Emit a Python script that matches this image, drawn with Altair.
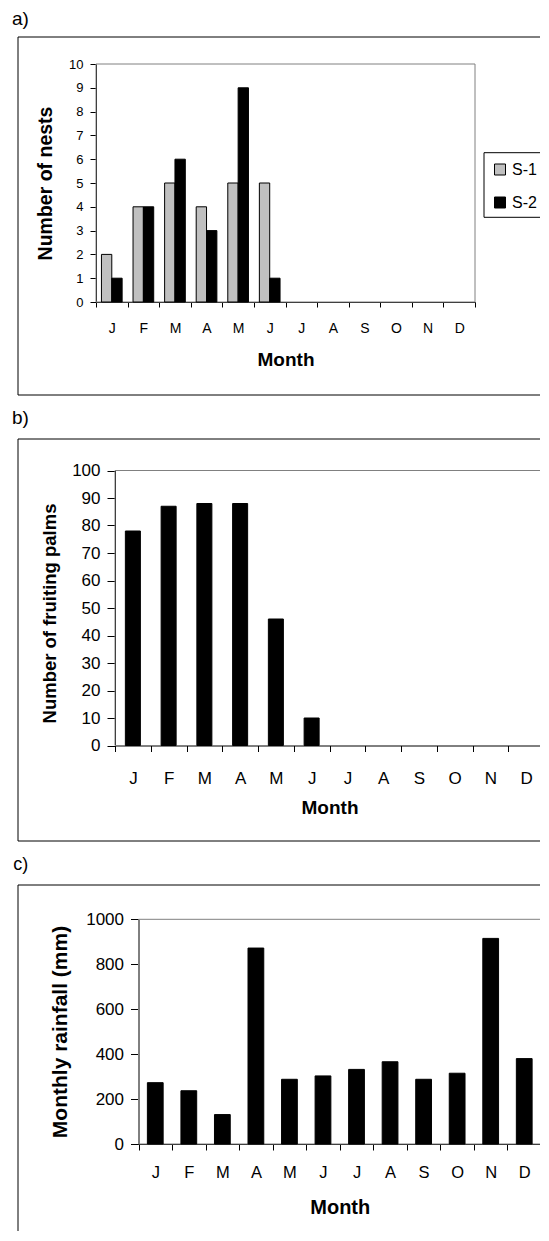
import altair as alt
import pandas as pd

# ---------------- data ----------------
month_letters = ["J", "F", "M", "A", "M", "J", "J", "A", "S", "O", "N", "D"]
month_idx = list(range(12))
series_names = ["S-1", "S-2"]
nests_s1 = [2, 4, 5, 4, 5, 5, 0, 0, 0, 0, 0, 0]
nests_s2 = [1, 4, 6, 3, 9, 1, 0, 0, 0, 0, 0, 0]
palms = [78, 87, 88, 88, 46, 10, 0, 0, 0, 0, 0, 0]
rain = [273, 237, 131, 872, 288, 303, 332, 366, 288, 315, 915, 380]
ticks_a = list(range(0, 11))
ticks_b = list(range(0, 101, 10))
ticks_c = list(range(0, 1001, 200))

FONT = "Liberation Sans"
label_expr = "[" + ",".join("'%s'" % m for m in month_letters) + "][datum.value]"

df_a = pd.DataFrame({
    "m": month_idx * 2,
    "series": [series_names[0]] * 12 + [series_names[1]] * 12,
    "v": nests_s1 + nests_s2,
})
df_b = pd.DataFrame({"m": month_idx, "v": palms})
df_c = pd.DataFrame({"m": month_idx, "v": rain})
one = pd.DataFrame({"k": [0]})

W = 523          # frame width (view); frame lines run on past it to the page edge
RIGHT = 530      # where the open-ended frame lines stop (clipped at the svg edge)

# zero-height bars get no outline, so nothing shows on the baseline
no_zero_stroke = alt.condition(alt.datum.v > 0, alt.value(1), alt.value(0))


def x_axis(tick, lab_fs, lab_pad, title_fs, title_y, offset):
    return alt.Axis(
        title="Month", labelExpr=label_expr, labelAngle=0, tickBand="extent",
        tickSize=tick, labelFontSize=lab_fs, labelPadding=lab_pad,
        labelBaseline="alphabetic", titleFontSize=title_fs, titleFontWeight="bold",
        titleBaseline="alphabetic", titleY=title_y, offset=offset,
    )


def y_axis(title, values, tick, lab_fs, lab_pad, title_fs, title_x, title_y, offset):
    return alt.Axis(
        title=title, values=values, tickSize=tick, labelFontSize=lab_fs, format="d",
        labelPadding=lab_pad, titleFontSize=title_fs, titleFontWeight="bold",
        titleBaseline="alphabetic", titleX=title_x, titleY=title_y, titleAngle=270,
        offset=offset,
    )


def hline(x1, x2, y, color="black"):
    return alt.Chart(one).mark_rule(color=color, strokeWidth=1).encode(
        x=alt.value(x1), x2=alt.value(x2), y=alt.value(y))


def vline(x, y1, y2, color="black"):
    return alt.Chart(one).mark_rule(color=color, strokeWidth=1).encode(
        x=alt.value(x), y=alt.value(y1), y2=alt.value(y2))


def decor(h, plot_box, tag, tx, ty, fs, bottom=True):
    px1, px2, py1, py2 = plot_box
    layers = [
        alt.Chart(one).mark_rect(fillOpacity=0, stroke="#808080", strokeWidth=1).encode(
            x=alt.value(px1), x2=alt.value(px2), y=alt.value(py1), y2=alt.value(py2)),
        hline(0, RIGHT, 0),
        vline(0, 0, h),
        alt.Chart(one).mark_text(
            text=tag, align="left", baseline="alphabetic", fontSize=fs, font=FONT, color="black"
        ).encode(x=alt.value(tx), y=alt.value(ty)),
    ]
    if bottom:
        layers.append(hline(0, RIGHT, h))
    return layers


# ---------------- panel a ----------------
HA = 358
PA = (78, 457, 27, 265)
bars_a = alt.Chart(df_a).mark_bar(stroke="black", strokeWidth=1).encode(
    x=alt.X("m:O", scale=alt.Scale(paddingInner=0, paddingOuter=0, range=[PA[0], PA[1]]),
            axis=x_axis(5, 14, 25, 19, 63, -(HA - PA[3]))),
    xOffset=alt.XOffset("series:N", scale=alt.Scale(domain=series_names, paddingInner=0, paddingOuter=0.527)),
    y=alt.Y("v:Q", scale=alt.Scale(domain=[0, 10], range=[PA[3], PA[2]]),
            axis=y_axis("Number of nests", ticks_a, 6, 13, 7, 19.5, -45, 146, -PA[0])),
    color=alt.Color("series:N", scale=alt.Scale(domain=series_names, range=["#c0c0c0", "#000000"]),
                    legend=alt.Legend(title=None, orient="none", legendX=474, legendY=124.5,
                                      symbolType="square", symbolSize=121,
                                      symbolStrokeColor="black", symbolStrokeWidth=1,
                                      labelFontSize=16, labelOffset=4, rowPadding=17,
                                      padding=0, labelFont=FONT, labelColor="black")),
    strokeOpacity=no_zero_stroke,
)
legend_box = [hline(466, RIGHT, 115.7), vline(466, 115.7, 180.3), hline(466, RIGHT, 180.3)]
panel_a = alt.layer(*decor(HA, PA, "a)", -6, -12, 19), bars_a, *legend_box).properties(
    width=W, height=HA)

# ---------------- panel b ----------------
HB = 402
PB = (97, 526, 31.5, 306.5)
bars_b = alt.Chart(df_b).mark_bar(color="black", stroke="black", strokeWidth=1,
                                  width=alt.RelativeBandSize(0.42)).encode(
    x=alt.X("m:O", scale=alt.Scale(paddingInner=0, paddingOuter=0, range=[PB[0], PB[1]]),
            axis=x_axis(6, 17, 31.7, 19, 68.3, -(HB - PB[3]))),
    y=alt.Y("v:Q", scale=alt.Scale(domain=[0, 100], range=[PB[3], PB[2]]),
            axis=y_axis("Number of fruiting palms", ticks_b, 8, 17, 7, 18.5, -60, 174, -PB[0])),
    strokeOpacity=no_zero_stroke,
)
panel_b = alt.layer(*decor(HB, PB, "b)", -6, -15.5, 19), bars_b).properties(width=W, height=HB)

# ---------------- panel c ----------------
HC = 346
PC = (120.5, 523, 34.3, 259)
bars_c = alt.Chart(df_c).mark_bar(color="black", stroke="black", strokeWidth=1,
                                  width=alt.RelativeBandSize(0.47)).encode(
    x=alt.X("m:O", scale=alt.Scale(paddingInner=0, paddingOuter=0, range=[PC[0], PC[1]]),
            axis=x_axis(6, 16.5, 27.3, 20, 69.3, -(HC - PC[3]))),
    y=alt.Y("v:Q", scale=alt.Scale(domain=[0, 1000], range=[PC[3], PC[2]]),
            axis=y_axis("Monthly  rainfall (mm)", ticks_c, 8, 17, 7, 21, -72.5, 146.5, -PC[0])),
)
panel_c = alt.layer(*decor(HC, PC, "c)", -4.7, -15.5, 18, bottom=False), bars_c).properties(
    width=W, height=HC)

chart = alt.vconcat(panel_a, panel_b, panel_c, spacing=44, bounds="flush").properties(
    padding={"left": 4, "top": 2, "right": -9, "bottom": 0},
    background="white",
).configure_view(stroke=None).configure_axis(
    labelFont=FONT, titleFont=FONT, domainColor="black", tickColor="black",
    labelColor="black", titleColor="black", grid=False, zindex=1,
    domainWidth=1, tickWidth=1,
).configure_legend(labelFont=FONT)

chart.save("out.html", embed_options={"renderer": "svg", "actions": False})
